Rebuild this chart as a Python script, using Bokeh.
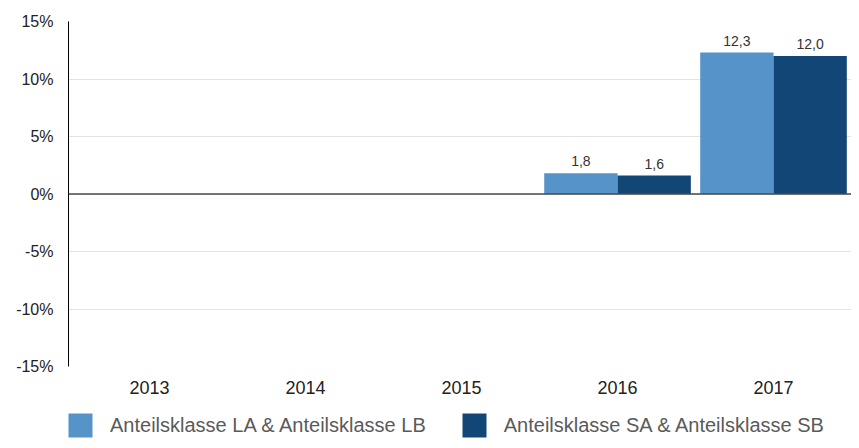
import numpy as np
from bokeh.plotting import figure
from bokeh.layouts import column
from bokeh.models import (ColumnDataSource, Range1d, FixedTicker, Legend, LegendItem,
                          Span, PrintfTickFormatter, LabelSet)
from bokeh.core.properties import value
from bokeh.embed import file_html
from bokeh.resources import INLINE

# ---- data ----
years = ["2013", "2014", "2015", "2016", "2017"]
series_la = [np.nan, np.nan, np.nan, 1.8, 12.3]
series_sa = [np.nan, np.nan, np.nan, 1.6, 12.0]
series_names = ["Anteilsklasse LA & Anteilsklasse LB", "Anteilsklasse SA & Anteilsklasse SB"]
series_colors = ["#5593c9", "#124677"]
y_ticks = [-15, -10, -5, 0, 5, 10, 15]

FONT = "Liberation Sans"
centers = np.arange(len(years)) + 0.5
offset = 0.235
bar_w = 0.47

p = figure(width=851, height=402, output_backend="svg", toolbar_location=None,
           x_range=Range1d(-0.02, len(years)), y_range=Range1d(-15, 15),
           min_border_left=68, min_border_right=0, min_border_top=21, min_border_bottom=36)
p.outline_line_color = None
p.background_fill_color = "white"

for vals, off, col in zip([series_la, series_sa], [-offset, offset], series_colors):
    v = np.array(vals, dtype=float)
    m = ~np.isnan(v)
    src = ColumnDataSource(dict(x=centers[m] + off, top=v[m],
                                lab=[f"{t:.1f}".replace(".", ",") for t in v[m]]))
    p.vbar(x="x", top="top", bottom=0, width=bar_w, source=src,
           fill_color=col, line_color=None)
    p.add_layout(LabelSet(x="x", y="top", text="lab", source=src, text_align="center",
                          text_baseline="bottom", y_offset=7, text_font=value(FONT),
                          text_font_size="14px", text_color="#333333"))

p.add_layout(Span(location=0, dimension="width", line_color="#4a4a4a", line_width=1.5))

# axes
p.xaxis.ticker = FixedTicker(ticks=list(centers))
p.xaxis.major_label_overrides = {float(c): y for c, y in zip(centers, years)}
p.xaxis.axis_line_color = None
p.xaxis.major_tick_line_color = None
p.xaxis.minor_tick_line_color = None
p.xaxis.major_tick_out = 0
p.xaxis.major_label_standoff = 14
p.xaxis.major_label_text_font = FONT
p.xaxis.major_label_text_font_size = "18px"
p.xaxis.major_label_text_color = "#222222"

p.yaxis.ticker = FixedTicker(ticks=y_ticks)
p.yaxis.formatter = PrintfTickFormatter(format="%d%%")
p.yaxis.axis_line_color = "black"
p.yaxis.axis_line_width = 1
p.yaxis.major_tick_line_color = None
p.yaxis.minor_tick_line_color = None
p.yaxis.major_tick_out = 0
p.yaxis.major_label_standoff = 15
p.yaxis.major_label_text_font = FONT
p.yaxis.major_label_text_font_size = "16px"
p.yaxis.major_label_text_color = "#222222"

p.xgrid.grid_line_color = None
p.ygrid.grid_line_color = "#e3e3e3"
p.ygrid.grid_line_width = 1

# ---- legend strip ----
lg = figure(width=851, height=38, output_backend="svg", toolbar_location=None,
            x_range=Range1d(0, 1), y_range=Range1d(0, 1),
            x_axis_type=None, y_axis_type=None,
            min_border_left=68, min_border_right=0, min_border_top=0, min_border_bottom=0)
lg.outline_line_color = None
lg.xgrid.grid_line_color = None
lg.ygrid.grid_line_color = None
dummies = [lg.vbar(x=[np.nan], top=[np.nan], width=1, fill_color=c, line_color=None)
           for c in series_colors]
legend = Legend(items=[LegendItem(label=n, renderers=[r]) for n, r in zip(series_names, dummies)],
                location=(-3, 0), orientation="horizontal",
                glyph_width=30, glyph_height=30, label_height=30, label_standoff=15,
                spacing=33, padding=0, margin=0, border_line_color=None,
                background_fill_alpha=0, label_text_font=FONT, label_text_font_size="20px",
                label_text_color="#5a5a5a")
lg.add_layout(legend, "center")

layout = column(p, lg, spacing=0)
open("out.html", "w").write(file_html(layout, INLINE))
